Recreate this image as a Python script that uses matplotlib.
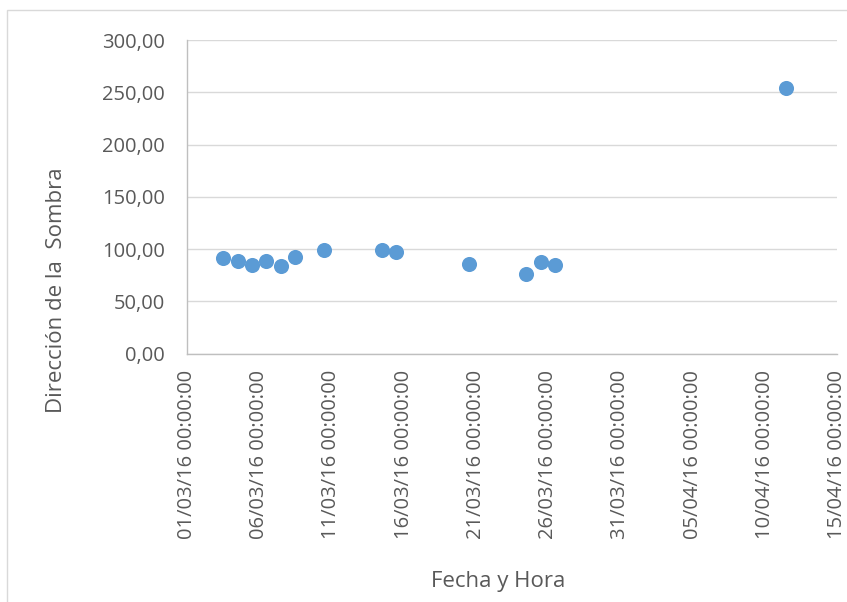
import matplotlib
matplotlib.use("Agg")
import matplotlib.pyplot as plt
import matplotlib.dates as mdates
from matplotlib.patches import Rectangle
from matplotlib.ticker import FuncFormatter, MultipleLocator
from datetime import datetime, timedelta

# measurement times and shadow direction (degrees)
fechas = [
    "2016-03-03 12:00", "2016-03-04 12:00", "2016-03-05 12:00",
    "2016-03-06 12:00", "2016-03-07 12:00", "2016-03-08 12:00",
    "2016-03-10 12:00", "2016-03-14 12:00", "2016-03-15 12:00",
    "2016-03-20 12:00", "2016-03-24 12:00", "2016-03-25 12:00",
    "2016-03-26 12:00", "2016-04-11 12:00",
]
direccion = [91.7, 89.1, 85.3, 89.1, 84.3, 92.3, 99.0,
             98.7, 97.1, 85.6, 76.3, 87.5, 85.0, 254.5]

x_inicio = datetime(2016, 3, 1)
x_fin = datetime(2016, 4, 15)

plt.rcParams['font.family'] = ['Open Sans', 'DejaVu Sans']
texto = '#595959'

fig = plt.figure(figsize=(8.47, 6.02), dpi=100)
fig.patches.append(Rectangle((7 / 847, -0.01), 1.0, 1 - 10 / 602 + 0.01,
                             transform=fig.transFigure, fill=False,
                             edgecolor='#D9D9D9', linewidth=1.0))
ax = fig.add_axes([187 / 847, 1 - 353.7 / 602, 650 / 847, 313.7 / 602])

xs = [datetime.strptime(f, "%Y-%m-%d %H:%M") for f in fechas]
ax.scatter(xs, direccion, s=118, color='#5B9BD5', zorder=3, linewidths=0)

ax.set_xlim(x_inicio, x_fin)
ax.set_ylim(0, 300)
ticks = [x_inicio + timedelta(days=5 * i) for i in range(10)]
ax.set_xticks(ticks)
ax.xaxis.set_major_formatter(mdates.DateFormatter("%d/%m/%y %H:%M:%S"))
ax.yaxis.set_major_locator(MultipleLocator(50))
ax.yaxis.set_major_formatter(FuncFormatter(lambda v, p: f"{v:.2f}".replace('.', ',')))

ax.grid(axis='y', color='#D9D9D9', linewidth=1.0)
ax.set_axisbelow(True)
for lado in ['top', 'right']:
    ax.spines[lado].set_visible(False)
for lado in ['left', 'bottom']:
    ax.spines[lado].set_color('#BFBFBF')
    ax.spines[lado].set_linewidth(1.0)

ax.tick_params(axis='both', length=0, colors=texto, labelsize=14.5)
ax.tick_params(axis='x', pad=11.5, labelrotation=90)
ax.tick_params(axis='y', pad=16)

fig.text(57 / 847, 1 - 290 / 602, "Dirección de la  Sombra", rotation=90,
         ha='center', va='center', fontsize=16, color=texto)
fig.text(498 / 847, 1 - 582 / 602, "Fecha y Hora",
         ha='center', va='center', fontsize=16, color=texto)

fig.savefig("out.png", dpi=100)
